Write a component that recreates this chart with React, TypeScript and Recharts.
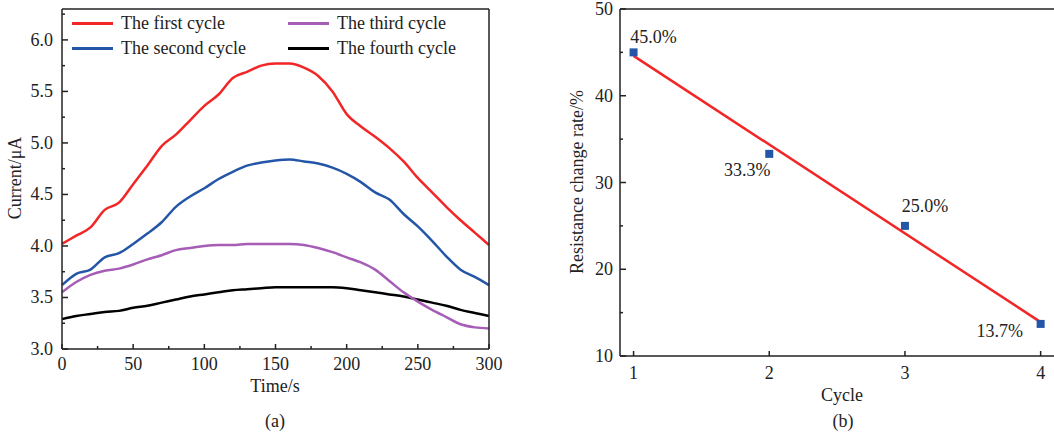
import { LineChart, Line, ComposedChart, XAxis, YAxis, LabelList } from 'recharts'

// (a) current vs time, one reading every 10 s
const times = [0, 10, 20, 30, 40, 50, 60, 70, 80, 90, 100, 110, 120, 130, 140, 150, 160, 170, 180, 190, 200, 210, 220, 230, 240, 250, 260, 270, 280, 290, 300]
const firstCycle = [4.02, 4.1, 4.18, 4.35, 4.42, 4.6, 4.78, 4.97, 5.08, 5.22, 5.36, 5.47, 5.63, 5.69, 5.75, 5.77, 5.77, 5.73, 5.65, 5.5, 5.28, 5.16, 5.06, 4.95, 4.82, 4.66, 4.52, 4.38, 4.25, 4.13, 4.01]
const secondCycle = [3.62, 3.73, 3.77, 3.89, 3.93, 4.02, 4.12, 4.23, 4.38, 4.48, 4.56, 4.65, 4.72, 4.78, 4.81, 4.83, 4.84, 4.82, 4.8, 4.76, 4.7, 4.62, 4.52, 4.45, 4.31, 4.19, 4.05, 3.9, 3.77, 3.7, 3.62]
const thirdCycle = [3.55, 3.65, 3.72, 3.76, 3.78, 3.82, 3.87, 3.91, 3.96, 3.98, 4.0, 4.01, 4.01, 4.02, 4.02, 4.02, 4.02, 4.01, 3.98, 3.94, 3.89, 3.84, 3.77, 3.66, 3.55, 3.46, 3.38, 3.31, 3.24, 3.21, 3.2]
const fourthCycle = [3.29, 3.32, 3.34, 3.36, 3.37, 3.4, 3.42, 3.45, 3.48, 3.51, 3.53, 3.55, 3.57, 3.58, 3.59, 3.6, 3.6, 3.6, 3.6, 3.6, 3.59, 3.57, 3.55, 3.53, 3.51, 3.48, 3.45, 3.42, 3.38, 3.35, 3.32]
const timeTicks = [0, 25, 50, 75, 100, 125, 150, 175, 200, 225, 250, 275, 300]
const currentTicks = [3.0, 3.25, 3.5, 3.75, 4.0, 4.25, 4.5, 4.75, 5.0, 5.25, 5.5, 5.75, 6.0, 6.25]

// (b) resistance change rate per cycle
const cycles = [1, 2, 3, 4]
const changeRate = [45.0, 33.3, 25.0, 13.7]
const fitCycles = [1, 4]
const fitRate = [44.6, 13.9]
const cycleTicks = [1, 2, 3, 4]
const rateTicks = [10, 15, 20, 25, 30, 35, 40, 45, 50]

const FONT = '"Liberation Serif", "Times New Roman", serif'
const INK = '#222'
const RED = '#f22626'
const BLUE = '#2456a8'
const PURPLE = '#a65db6'

const curveData = times.map((t, i) => ({
  t,
  first: firstCycle[i],
  second: secondCycle[i],
  third: thirdCycle[i],
  fourth: fourthCycle[i],
}))
const pointData = cycles.map((c, i) => ({ c, r: changeRate[i] }))
const fitData = fitCycles.map((c, i) => ({ c, r: fitRate[i] }))

const labelShift = [
  { dx: 20, dy: -15 },
  { dx: -22, dy: 16 },
  { dx: 20, dy: -20 },
  { dx: -41, dy: 7 },
]

const axisLine = { stroke: INK, strokeWidth: 1.5 }

function XTick({ x, y, payload, isMajor, fmt, dy }: any) {
  const v = payload.value
  const major = isMajor(v)
  return (
    <g>
      <line x1={x} x2={x} y1={y} y2={y - (major ? 5 : 3)} stroke={INK} strokeWidth={1.5} />
      {major && (
        <text x={x} y={y + dy} textAnchor="middle" style={{ fontFamily: FONT, fontSize: 18 }} fill={INK}>
          {fmt(v)}
        </text>
      )}
    </g>
  )
}

function YTick({ x, y, payload, isMajor, fmt, gap }: any) {
  const v = payload.value
  const major = isMajor(v)
  return (
    <g>
      <line x1={x} x2={x + (major ? 6 : 3)} y1={y} y2={y} stroke={INK} strokeWidth={1.5} />
      {major && (
        <text x={x - gap} y={y + 6} textAnchor="end" style={{ fontFamily: FONT, fontSize: 18 }} fill={INK}>
          {fmt(v)}
        </text>
      )}
    </g>
  )
}

function SquareDot({ cx, cy }: any) {
  if (cx == null || cy == null) return null
  return <rect x={cx - 4} y={cy - 4} width={8} height={8} fill={BLUE} />
}

function RateLabel({ x, y, value, index }: any) {
  const s = labelShift[index]
  return (
    <text x={x + s.dx} y={y + s.dy + 6} textAnchor="middle" style={{ fontFamily: FONT, fontSize: 18 }} fill={INK}>
      {Number(value).toFixed(1)}%
    </text>
  )
}

const text = (style: React.CSSProperties): React.CSSProperties => ({
  position: 'absolute',
  fontFamily: FONT,
  fontSize: 18,
  color: INK,
  whiteSpace: 'nowrap',
  lineHeight: '20px',
  ...style,
})

function LegendItem({ color, label, left, top }: { color: string; label: string; left: number; top: number }) {
  return (
    <div style={{ position: 'absolute', left, top, display: 'flex', alignItems: 'center', height: 20 }}>
      <div style={{ width: 41, height: 3, background: color, marginRight: 8 }} />
      <span style={{ fontFamily: FONT, fontSize: 18, color: INK, lineHeight: '20px' }}>{label}</span>
    </div>
  )
}

const halfStep = (v: number) => Math.abs(v * 2 - Math.round(v * 2)) < 1e-6

export default function App() {
  return (
    <div style={{ position: 'fixed', left: 0, top: 0, width: 1054, height: 434, overflow: 'hidden', background: '#fff' }}>
      <div style={{ position: 'absolute', left: 0, top: 0 }}>
        <LineChart width={530} height={434} data={curveData} margin={{ top: 8, right: 40, bottom: 84, left: 61 }}>
          <XAxis
            dataKey="t"
            type="number"
            domain={[0, 300]}
            ticks={timeTicks}
            interval={0}
            height={1}
            tickSize={0}
            tickMargin={0}
            tickLine={false}
            axisLine={axisLine}
            tick={(p: any) => <XTick {...p} isMajor={(v: number) => v % 50 === 0} fmt={(v: number) => String(v)} dy={21} />}
          />
          <XAxis xAxisId="top" orientation="top" type="number" domain={[0, 300]} height={1} tick={false} tickLine={false} axisLine={axisLine} />
          <YAxis
            type="number"
            domain={[3.0, 6.3]}
            ticks={currentTicks}
            interval={0}
            width={1}
            tickSize={0}
            tickMargin={0}
            tickLine={false}
            axisLine={axisLine}
            tick={(p: any) => <YTick {...p} isMajor={halfStep} fmt={(v: number) => v.toFixed(1)} gap={9} />}
          />
          <YAxis yAxisId="right" orientation="right" type="number" domain={[3.0, 6.3]} width={1} tick={false} tickLine={false} axisLine={axisLine} />
          <Line type="monotone" dataKey="fourth" stroke="#000" strokeWidth={2.5} dot={false} isAnimationActive={false} />
          <Line type="monotone" dataKey="third" stroke={PURPLE} strokeWidth={2.5} dot={false} isAnimationActive={false} />
          <Line type="monotone" dataKey="second" stroke={BLUE} strokeWidth={2.5} dot={false} isAnimationActive={false} />
          <Line type="monotone" dataKey="first" stroke={RED} strokeWidth={2.5} dot={false} isAnimationActive={false} />
        </LineChart>
      </div>

      <LegendItem color={RED} label="The first cycle" left={72} top={13} />
      <LegendItem color={BLUE} label="The second cycle" left={72} top={38} />
      <LegendItem color={PURPLE} label="The third cycle" left={288} top={13} />
      <LegendItem color="#000" label="The fourth cycle" left={288} top={38} />

      <div style={text({ left: 275, top: 376, transform: 'translateX(-50%)' })}>Time/s</div>
      <div style={text({ left: 275, top: 411, transform: 'translateX(-50%)' })}>(a)</div>
      <div style={text({ left: 15, top: 178, transform: 'translate(-50%, -50%) rotate(-90deg)' })}>Current/μA</div>

      <div style={{ position: 'absolute', left: 560, top: 0 }}>
        <ComposedChart width={520} height={434} margin={{ top: 8, right: 19, bottom: 77, left: 59 }}>
          <XAxis
            dataKey="c"
            type="number"
            domain={[0.9, 4.15]}
            ticks={cycleTicks}
            interval={0}
            height={1}
            tickSize={0}
            tickMargin={0}
            tickLine={false}
            allowDataOverflow
            axisLine={axisLine}
            tick={(p: any) => <XTick {...p} isMajor={() => true} fmt={(v: number) => String(v)} dy={23} />}
          />
          <XAxis xAxisId="top" orientation="top" type="number" domain={[0.9, 4.15]} height={1} tick={false} tickLine={false} axisLine={axisLine} />
          <YAxis
            type="number"
            domain={[10, 50]}
            ticks={rateTicks}
            interval={0}
            width={1}
            tickSize={0}
            tickMargin={0}
            tickLine={false}
            axisLine={axisLine}
            tick={(p: any) => <YTick {...p} isMajor={(v: number) => v % 10 === 0} fmt={(v: number) => String(v)} gap={7} />}
          />
          <Line data={pointData} dataKey="r" stroke="none" dot={<SquareDot />} activeDot={false} isAnimationActive={false}>
            <LabelList dataKey="r" content={<RateLabel />} />
          </Line>
          <Line data={fitData} dataKey="r" type="linear" stroke={RED} strokeWidth={2.5} dot={false} activeDot={false} isAnimationActive={false} />
        </ComposedChart>
      </div>

      <div style={text({ left: 842, top: 385, transform: 'translateX(-50%)' })}>Cycle</div>
      <div style={text({ left: 843, top: 411, transform: 'translateX(-50%)' })}>(b)</div>
      <div style={text({ left: 577, top: 182, transform: 'translate(-50%, -50%) rotate(-90deg)' })}>Resistance change rate/%</div>
    </div>
  )
}
